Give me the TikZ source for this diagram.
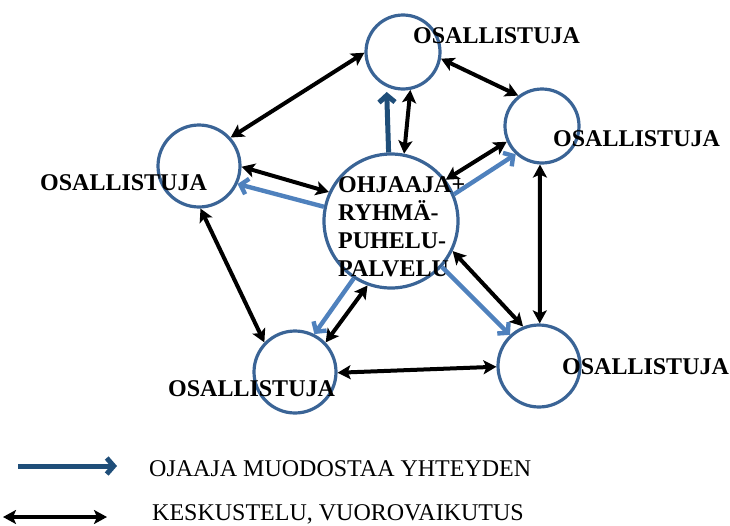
\documentclass[tikz,border=0pt]{standalone}
\usepackage{fontspec}
\setmainfont{Liberation Serif}
\usetikzlibrary{arrows.meta}
\definecolor{cblue}{HTML}{3A6496}
\definecolor{lblue}{HTML}{4F81BD}
\definecolor{dblue}{HTML}{1F4E79}
\tikzset{
  circ/.style={circle, draw=cblue, line width=3.2pt, minimum size=#1, inner sep=0pt},
  ostext/.style={font=\bfseries\fontsize{24}{28}\selectfont, inner sep=0pt, anchor=base west},
  legtext/.style={font=\fontsize{24}{28}\selectfont, inner sep=0pt, anchor=base west},
  bk/.style={black, line width=4pt, {Stealth[length=13pt,width=14pt,inset=3pt]}-{Stealth[length=13pt,width=14pt,inset=3pt]}},
  lb/.style={lblue, line width=4.4pt, -{Straight Barb[length=7pt,width=16pt]}},
  db/.style={dblue, line width=5pt, -{Straight Barb[length=7pt,width=16pt]}},
}
\begin{document}
\begin{tikzpicture}[x=1pt,y=-1pt]
\useasboundingbox (0,0) rectangle (730,525);
% circles
\node[circ=74pt]  (T)  at (403,52) {};
\node[circ=74pt]  (TR) at (542,126) {};
\node[circ=82pt]  (L)  at (199,166) {};
\node[circ=134pt] (C)  at (391,221) {};
\node[circ=82pt]  (BL) at (295,372) {};
\node[circ=82pt]  (BR) at (539,366) {};
% labels
\node[ostext] (tT)  at (413,43)  {OSALLISTUJA};
\node[ostext] (tTR) at (553,146) {OSALLISTUJA};
\node[ostext] (tL)  at (40,190)  {OSALLISTUJA};
\node[ostext] (tBL) at (168,396) {OSALLISTUJA};
\node[ostext] (tBR) at (562,374) {OSALLISTUJA};
\node[font=\bfseries\fontsize{24}{28}\selectfont, inner sep=0pt, align=left, anchor=north west] (tC) at (338,176)
  {OHJAAJA+\\RYHMÄ-\\PUHELU-\\PALVELU};
% blue arrows (ohjaaja muodostaa yhteyden)
\draw[db] (C.92.6) -- ([yshift=-5pt]T.245);
\draw[lb] (C.168.5) -- (L.-25);
\draw[lb] (C.23.7) -- (TR.227);
\draw[lb] (C.237.4) -- (BL.63);
\draw[lb] (C.-42.3) -- (BR.133);
% black double arrows
\draw[bk] (T.-79.6) -- (C.79.7);
\draw[bk] (T.181.6) -- (L.42);
\draw[bk] (T.-10) -- (TR.128.5);
\draw[bk] (TR.204.6) -- (C.37.7);
\draw[bk] (TR.-93) -- (BR.89);
\draw[bk] (L.-1.4) -- (C.155.3);
\draw[bk] (L.-88.6) -- (BL.136);
\draw[bk] (C.250.3) -- (BL.44);
\draw[bk] (C.-26.6) -- (BR.112.5);
\draw[bk] (BL.-1.4) -- (BR.181.5);
% legend
\coordinate (la1) at (18,466);
\coordinate (lb1) at (117,466);
\coordinate (la2) at (3,517);
\coordinate (lb2) at (107,517);
\draw[db] (la1) -- (lb1);
\draw[bk] (la2) -- (lb2);
\node[legtext] (leg1) at (149,476) {OJAAJA MUODOSTAA YHTEYDEN};
\node[legtext] (leg2) at (152,520) {KESKUSTELU, VUOROVAIKUTUS};
\end{tikzpicture}
\end{document}
